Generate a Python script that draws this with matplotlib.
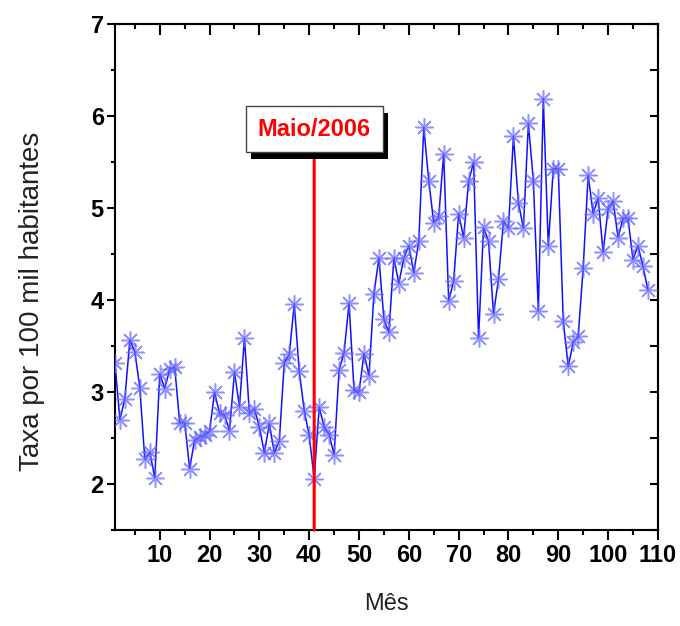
import matplotlib
matplotlib.use("Agg")
import matplotlib.pyplot as plt
import matplotlib.patheffects as pe
from matplotlib.ticker import MultipleLocator, NullFormatter

plt.rcParams['font.family'] = ['Liberation Sans', 'DejaVu Sans']

# taxa mensal por 100 mil habitantes (mes 1 = jan/2003)
meses = list(range(1, 109))
taxa = [3.32, 2.70, 2.93, 3.57, 3.44, 3.05, 2.27, 2.35, 2.07, 3.20,
        3.04, 3.25, 3.27, 2.67, 2.67, 2.17, 2.48, 2.51, 2.53, 2.58,
        3.00, 2.77, 2.75, 2.58, 3.22, 2.84, 3.59, 2.77, 2.82, 2.62,
        2.34, 2.66, 2.34, 2.47, 3.32, 3.41, 3.96, 3.23, 2.80, 2.53,
        2.06, 2.84, 2.62, 2.54, 2.32, 3.24, 3.43, 3.97, 3.02, 3.00,
        3.42, 3.18, 4.07, 4.46, 3.79, 3.65, 4.46, 4.18, 4.46, 4.59,
        4.30, 4.64, 5.88, 5.30, 4.84, 4.91, 5.59, 3.99, 4.21, 4.94,
        4.68, 5.29, 5.50, 3.59, 4.79, 4.64, 3.85, 4.23, 4.86, 4.78,
        5.78, 5.06, 4.78, 5.92, 5.30, 3.88, 6.19, 4.59, 5.43, 5.43,
        3.77, 3.28, 3.54, 3.61, 4.35, 5.36, 4.94, 5.11, 4.52, 4.99,
        5.08, 4.68, 4.89, 4.89, 4.44, 4.59, 4.37, 4.11]

mes_evento = 41
rotulo_evento = "Maio/2006"
y_rotulo = 5.86

fig = plt.figure(figsize=(6.8, 6.26), dpi=100)
ax = fig.add_axes([0.169, 0.153, 0.7985, 0.8085])

ax.plot(meses, taxa, color='#1010ff', lw=1.1, marker=(8, 2, 0), ms=13,
        mec=(0.4, 0.4, 1.0, 0.7), mew=1.1, zorder=3)

ann = ax.annotate(rotulo_evento, xy=(mes_evento, 0), xycoords=('data', 'axes fraction'),
                  xytext=(mes_evento, y_rotulo), textcoords='data',
                  ha='center', va='center', color='red', fontsize=17, fontweight='bold',
                  bbox=dict(boxstyle='square,pad=0.5', fc='white', ec='#444444', lw=1),
                  arrowprops=dict(arrowstyle='-', color='red', lw=2.2, shrinkA=0, shrinkB=0),
                  zorder=5)
ann.get_bbox_patch().set_path_effects(
    [pe.withSimplePatchShadow(offset=(4, -5), shadow_rgbFace='black', alpha=1.0)])

ax.set_xlim(1, 110)
ax.set_ylim(1.5, 7)
ax.xaxis.set_major_locator(MultipleLocator(10))
ax.xaxis.set_minor_locator(MultipleLocator(5))
ax.yaxis.set_major_locator(MultipleLocator(1))
ax.yaxis.set_minor_locator(MultipleLocator(0.5))

for s in ax.spines.values():
    s.set_linewidth(1.5)

ax.tick_params(axis='x', which='major', direction='out', length=7, width=1.5, pad=3)
ax.tick_params(axis='x', which='minor', direction='out', length=3.6, width=1.5)
ax.tick_params(axis='y', which='major', direction='out', length=6, width=1.5, pad=2)
ax.tick_params(axis='y', which='minor', direction='out', length=3, width=1.5)
for lab in ax.get_xticklabels() + ax.get_yticklabels():
    lab.set_fontsize(17)
    lab.set_fontweight('bold')

top = ax.secondary_xaxis('top')
top.xaxis.set_major_locator(MultipleLocator(10))
top.xaxis.set_minor_locator(MultipleLocator(5))
top.xaxis.set_major_formatter(NullFormatter())
top.tick_params(which='major', direction='in', length=8, width=1.5)
top.tick_params(which='minor', direction='in', length=3.8, width=1.5)
top.spines['top'].set_linewidth(1.5)

right = ax.secondary_yaxis('right')
right.yaxis.set_major_locator(MultipleLocator(1))
right.yaxis.set_minor_locator(MultipleLocator(0.5))
right.yaxis.set_major_formatter(NullFormatter())
right.tick_params(which='both', direction='in', length=5.5, width=1.5)
right.spines['right'].set_linewidth(1.5)

ax.set_xlabel("Mês", fontsize=17, color='#222222')
ax.set_ylabel("Taxa por 100 mil habitantes", fontsize=20, color='#222222')
ax.xaxis.set_label_coords(0.5, -0.125)
ax.yaxis.set_label_coords(-0.129, 0.453)

fig.savefig("out.png", dpi=100)
